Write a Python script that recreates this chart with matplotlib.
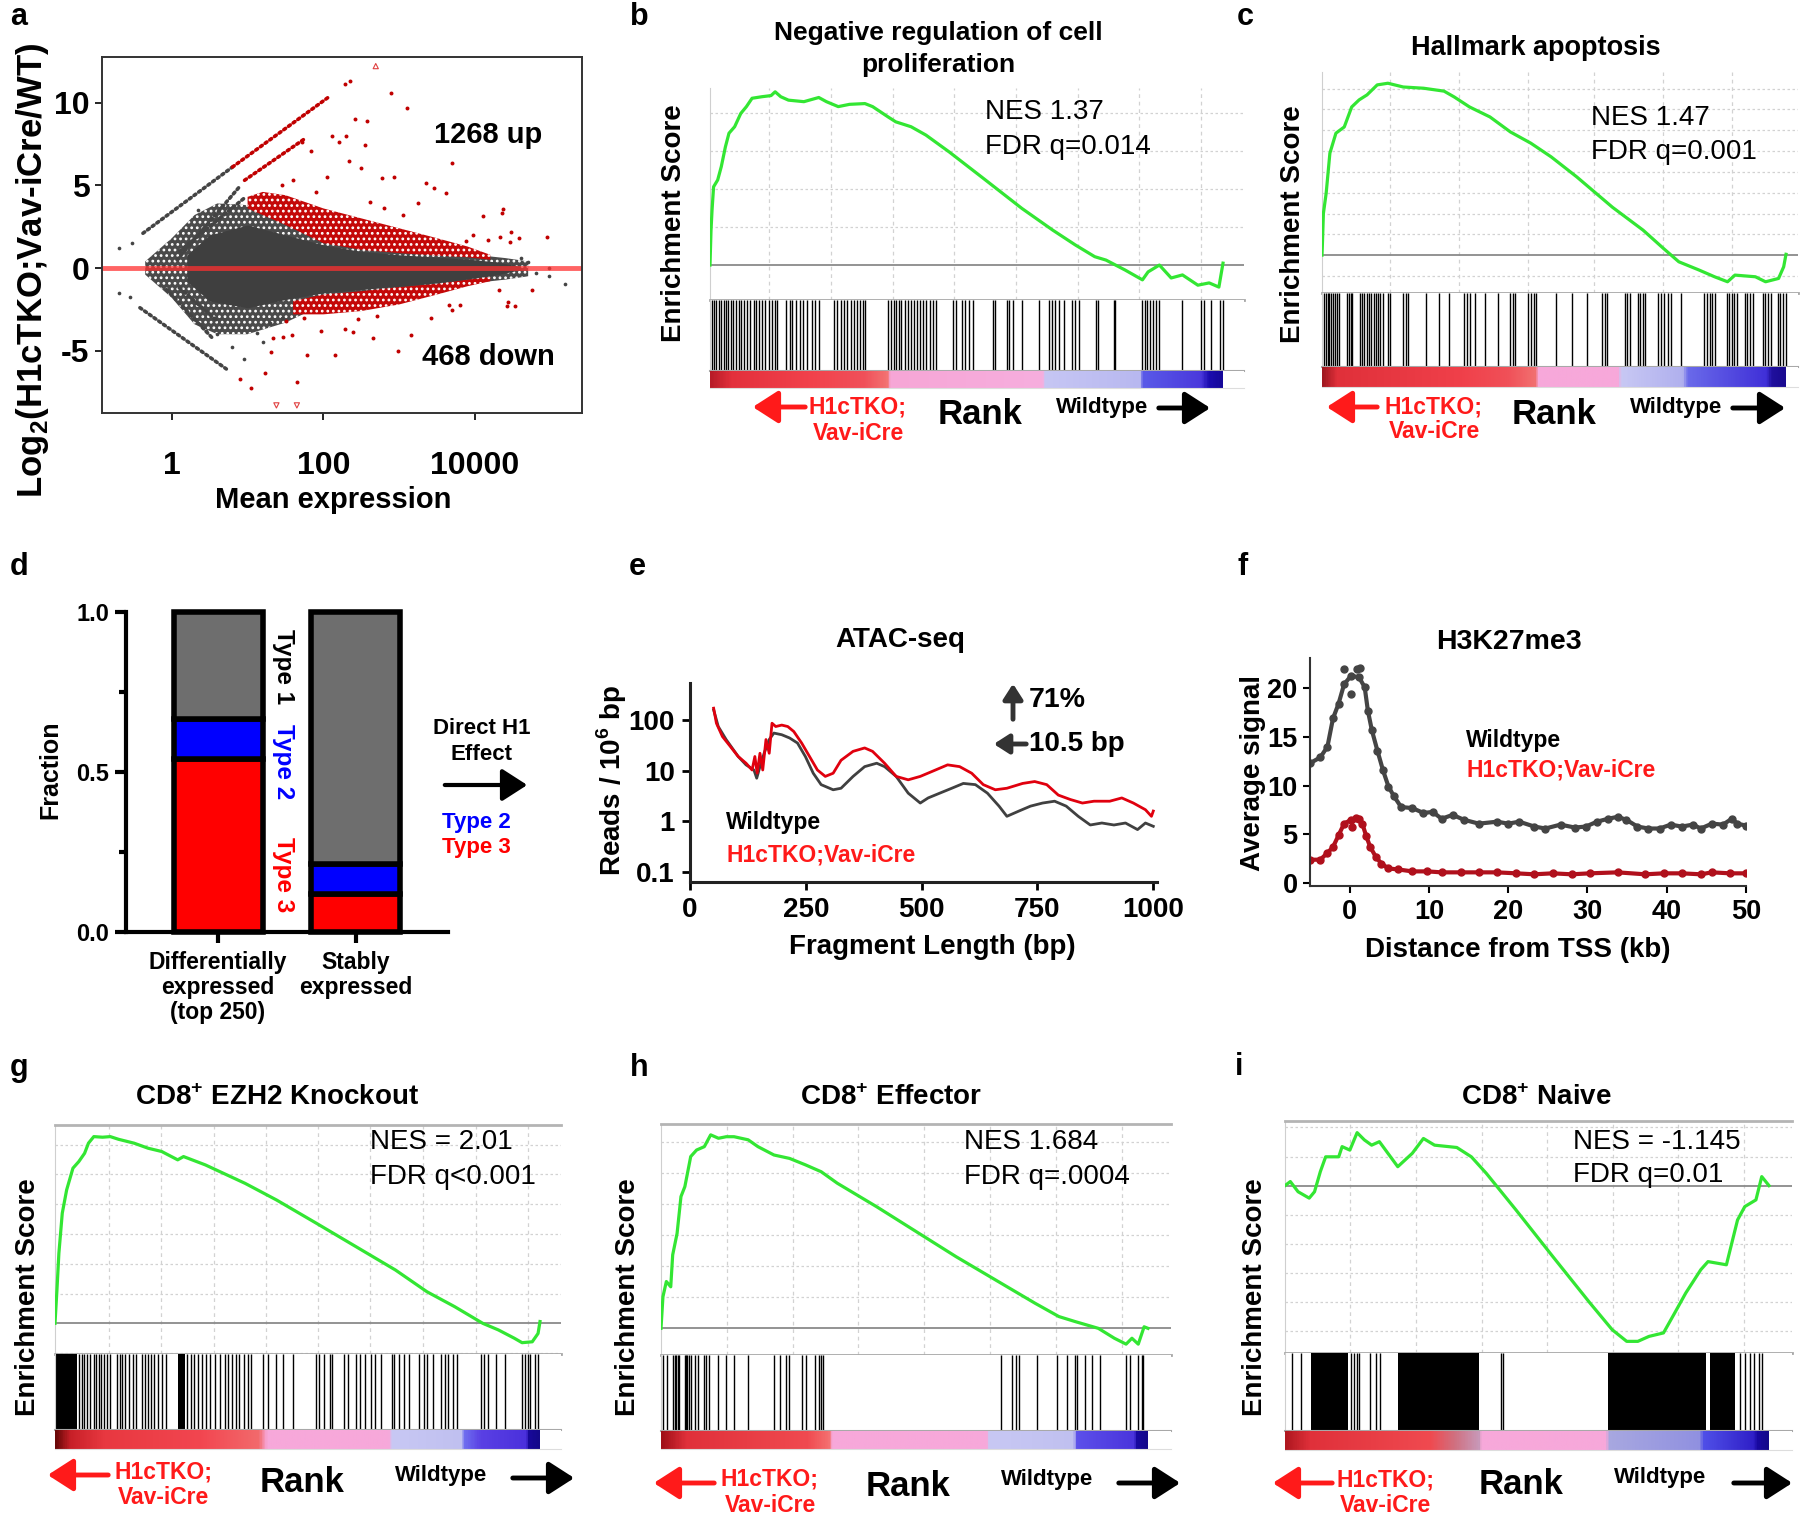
import numpy as np
import matplotlib
matplotlib.use("Agg")
import matplotlib.pyplot as plt
from matplotlib.colors import LinearSegmentedColormap
from matplotlib.patches import FancyArrowPatch

plt.rcParams['font.family'] = ['Liberation Sans', 'DejaVu Sans']
plt.rcParams['mathtext.fontset'] = 'custom'
plt.rcParams['mathtext.rm'] = 'Liberation Sans'
plt.rcParams['mathtext.bf'] = 'Liberation Sans:bold'
plt.rcParams['hatch.linewidth'] = 1.2

W, H = 1800, 1515

# ---------------- panel a : MA plot (log10 mean, log2 FC) ----------------
ma_out_lx = [-0.35, 0.0, 0.3, 0.6, 1.0, 1.5, 2.0, 2.5, 3.0, 3.5, 4.0, 4.4, 4.7]
ma_out_hi = [0.4, 1.8, 3.2, 3.9, 3.8, 3.0, 1.8, 1.3, 1.1, 0.9, 0.8, 0.6, 0.4]
ma_out_lo = [-0.4, -1.8, -3.4, -4.0, -4.0, -3.3, -2.2, -1.7, -1.4, -1.1, -0.9, -0.7, -0.5]
ma_core_lx = [0.2, 0.5, 1.0, 1.5, 2.0, 2.5, 3.0, 3.5, 4.0, 4.3, 4.6]
ma_core_hi = [0.8, 2.0, 2.6, 2.0, 1.4, 1.0, 0.8, 0.65, 0.5, 0.35, 0.1]
ma_core_lo = [-0.8, -2.0, -2.4, -1.9, -1.5, -1.3, -1.1, -0.9, -0.6, -0.4, -0.1]
ma_up_lx = [1.0, 1.2, 1.5, 2.0, 2.5, 3.0, 3.5, 3.9, 4.2]
ma_up_lo = [3.6, 3.2, 2.6, 1.5, 1.1, 0.9, 0.75, 0.65, 0.5]
ma_up_hi = [4.3, 4.6, 4.4, 3.6, 3.0, 2.4, 1.8, 1.3, 0.8]
ma_dn_lx = [1.6, 2.0, 2.5, 3.0, 3.5, 3.9, 4.2]
ma_dn_hi = [-2.0, -1.6, -1.4, -1.15, -0.95, -0.7, -0.55]
ma_dn_lo = [-2.8, -2.8, -2.6, -2.2, -1.6, -1.1, -0.8]
# count-limited diagonal stripes: (lx0, y0, lx1, y1, colour)
ma_stripes = [(-0.38, 2.1, 0.80, 6.1, 'gray'), (0.80, 6.1, 2.06, 10.3, 'red'),
              (0.07, 0.5, 0.91, 5.0, 'gray'), (0.96, 5.3, 1.75, 7.8, 'red'),
              (0.10, 1.0, 0.95, 4.2, 'gray'),
              (-0.42, -2.4, 0.72, -6.1, 'gray'), (-0.07, -1.3, 0.55, -4.3, 'gray'),
              (0.10, -1.2, 0.60, -3.2, 'gray')]
ma_red_lx = [2.41, 2.57, 2.89, 3.10, 2.11, 2.21, 2.30, 2.55, 2.34, 2.50, 2.77, 2.93, 3.69, 3.35,
             3.46, 3.62, 4.11, 4.37, 3.88, 3.97, 4.17, 4.46, 1.72, 1.84, 2.28, 2.35, 4.36, 4.47,
             4.58, 4.95, 4.33, 1.34, 1.31, 1.05, 0.90, 1.23, 1.65, 1.79, 2.15, 2.66, 2.98, 3.16,
             1.58, 1.47, 1.97, 2.28, 2.39, 4.42, 4.53, 3.69, 3.42, 4.75, 4.32, 4.43, 3.66, 3.80,
             1.45, 1.60, 1.90, 2.05, 2.62, 2.80, 3.05, 3.25, 1.50, 1.75, 2.45, 2.70]
ma_red_y = [8.98, 8.88, 10.6, 9.65, 7.98, 7.63, 7.98, 7.43, 6.46, 6.02, 5.42, 5.48, 6.32, 5.12,
            4.82, 4.55, 3.14, 3.56, 1.63, 2.0, 1.7, 1.59, 7.63, 7.09, 11.1, 11.3, 3.31, 2.19,
            1.80, 1.87, 1.89, -4.21, -5.08, -7.23, -6.73, -6.37, -6.87, -5.26, -5.26, -4.25, -5.02,
            -4.05, -4.05, -4.15, -3.79, -3.70, -3.84, -2.30, -2.30, -2.54, -3.04, -1.33, -1.33,
            -2.04, -2.24, -2.24, 5.0, 5.3, 4.6, 5.5, 4.0, 3.6, 3.2, 3.9, -3.2, -3.0, -3.1, -2.9]
ma_gray_lx = [-0.69, -0.53, -0.69, -0.55, 4.70, 4.98, 4.98, 5.18, 4.60, 4.80, 0.80, 0.95, 1.12,
              1.20, 0.60, -0.25, -0.12, 1.30, 1.45, 0.35, 0.45]
ma_gray_y = [1.2, 1.54, -1.53, -1.73, 0.35, 0.0, -0.5, -0.97, 0.6, -0.3, -4.8, -5.5, -3.9,
             -4.5, -4.0, 0.0, 0.2, -3.3, -3.0, 3.5, -3.8]
ma_tri_up = (2.69, 12.2)
ma_tri_dn_lx = [1.38, 1.65]
ma_tri_dn_y = [-8.3, -8.3]

# ---------------- GSEA running scores (rank fraction, ES) ----------------
b_rank = [0, .002, .004, .007, .015, .022, .030, .037, .048, .060, .071, .082, .101, .119, .127,
          .138, .153, .183, .212, .227, .250, .272, .302, .317, .347, .362, .392, .421, .466,
          .533, .608, .668, .712, .750, .772, .809, .843, .854, .876, .899, .921, .951, .973,
          .992, 1.0]
b_es = [0, .092, .145, .206, .224, .259, .311, .347, .364, .399, .417, .439, .443, .446, .456,
        .443, .434, .430, .441, .430, .417, .423, .425, .417, .390, .377, .364, .342, .298,
        .228, .149, .092, .053, .022, .013, -.013, -.039, -.018, 0, -.034, -.026, -.053, -.047,
        -.058, .005]
b_hits = [.004, .008, .012, .018, .022, .027, .031, .036, .040, .045, .050, .056, .061, .066,
          .072, .078, .085, .090, .096, .101, .108, .115, .121, .127, .130, .148, .155, .160,
          .168, .175, .182, .190, .198, .205, .212, .242, .248, .255, .262, .268, .274, .280,
          .286, .292, .298, .302, .347, .352, .358, .362, .368, .373, .380, .386, .392, .398,
          .404, .410, .416, .422, .428, .434, .440, .474, .480, .492, .497, .505, .512, .552,
          .556, .578, .583, .590, .608, .641, .660, .666, .672, .680, .690, .705, .712, .720,
          .753, .757, .787, .790, .843, .847, .852, .858, .864, .870, .876, .921, .957, .962,
          .977, .995, 1.0]
b_cols = [(0, '#b81c28'), (.04, '#e3303c'), (.2, '#f2424c'), (.30, '#f0505a'), (.345, '#f37272'),
          (.35, '#f6a6d6'), (.65, '#f7aede'), (.655, '#c6c6f4'), (.84, '#b8b8f0'), (.845, '#5a5ae8'),
          (.96, '#4a38dc'), (.975, '#1c0cb0'), (1, '#16089a')]

c_rank = [0, .0007, .003, .009, .017, .030, .048, .064, .080, .097, .119, .142, .175, .219, .263,
          .285, .318, .362, .406, .450, .494, .549, .626, .692, .736, .769, .813, .846, .874,
          .890, .934, .956, .984, .995, 1.0]
c_es = [0, .02, .10, .149, .245, .293, .308, .356, .373, .385, .409, .413, .404, .401, .394, .380,
        .356, .332, .296, .269, .236, .188, .115, .060, .016, -.016, -.036, -.052, -.064, -.048,
        -.052, -.064, -.056, -.028, .002]
c_hits = [.004, .008, .012, .016, .020, .024, .028, .032, .037, .054, .058, .062, .065, .081, .086,
          .091, .096, .101, .106, .111, .116, .121, .126, .131, .142, .147, .175, .181, .186, .224,
          .252, .274, .307, .313, .320, .329, .351, .379, .406, .411, .417, .445, .451, .456, .461,
          .505, .538, .571, .604, .609, .615, .653, .658, .664, .681, .686, .692, .697, .725, .731,
          .737, .745, .752, .774, .824, .830, .836, .841, .846, .873, .878, .884, .889, .895, .912,
          .917, .922, .928, .950, .955, .961, .967, .983, .988, .994, 1.0]
c_cols = [(0, '#a01820'), (.03, '#e0303a'), (.3, '#f0404a'), (.4, '#f05058'), (.46, '#f27070'),
          (.466, '#f7a8da'), (.64, '#f7a8da'), (.645, '#c8c8f4'), (.78, '#b0b0ee'), (.79, '#6a6aea'),
          (.96, '#4030d8'), (.972, '#20109e'), (1, '#1a0a90')]

g_rank = [0, .004, .008, .015, .024, .037, .049, .061, .069, .080, .098, .114, .131, .163, .192,
          .220, .253, .265, .310, .392, .457, .539, .620, .702, .767, .824, .882, .914, .947, .963,
          .984, .996, 1.0]
g_es = [0, .112, .235, .370, .448, .521, .543, .571, .605, .627, .625, .627, .618, .605, .588,
        .577, .549, .560, .532, .470, .414, .336, .258, .179, .106, .056, 0, -.022, -.050, -.065,
        -.062, -.034, .006]
g_hits = [.05, .055, .06, .066, .072, .08, .085, .09, .095, .102, .108, .114, .127, .133, .138,
          .145, .152, .160, .167, .180, .186, .192, .198, .205, .212, .220, .229, .273, .28, .287,
          .295, .303, .312, .32, .33, .34, .35, .357, .365, .373, .38, .39, .398, .404, .429, .44,
          .455, .47, .49, .539, .545, .555, .568, .571, .596, .604, .620, .628, .64, .652, .66,
          .673, .694, .70, .71, .72, .73, .751, .76, .768, .78, .796, .805, .81, .82, .829, .878,
          .885, .893, .91, .927, .963, .97, .976, .98, .99, .996]
g_blocks = [(.002, .045), (.253, .269)]
g_cols = [(0, '#6a0808'), (.03, '#c82028'), (.1, '#e83840'), (.3, '#f24650'), (.42, '#f26a6c'),
          (.437, '#f7a8da'), (.69, '#f7a8da'), (.695, '#c8c8f4'), (.84, '#c0c0f0'), (.845, '#7070f0'),
          (.88, '#5a40e4'), (.975, '#4a30dc'), (.98, '#18089a'), (1, '#14088a')]

h_rank = [0, .004, .011, .020, .024, .033, .041, .049, .061, .073, .089, .102, .118, .134, .150,
          .179, .199, .232, .264, .297, .329, .362, .443, .524, .606, .687, .768, .817, .850, .898,
          .931, .955, .967, .980, .992, 1.0]
h_es = [0, .102, .151, .134, .237, .306, .425, .457, .554, .575, .586, .624, .613, .618, .618,
        .608, .586, .559, .548, .527, .505, .468, .392, .312, .231, .156, .081, .038, .022, 0,
        -.032, -.051, -.032, -.051, .005, 0]
h_hits = [.004, .012, .024, .028, .031, .034, .037, .049, .051, .054, .058, .061, .069, .077, .089,
          .093, .098, .118, .134, .150, .179, .232, .244, .256, .263, .289, .297, .317, .325, .329,
          .333, .699, .720, .728, .736, .772, .813, .833, .850, .854, .870, .886, .902, .955, .963,
          .980, .988, .990]
h_cols = [(0, '#a01018'), (.05, '#e0303a'), (.3, '#f04a50'), (.345, '#f47070'), (.35, '#f7a8da'),
          (.67, '#f7a8da'), (.675, '#c8c8f4'), (.85, '#c0c0f0'), (.855, '#5c50ea'), (.975, '#4a34dc'),
          (.98, '#1808a0'), (1, '#14088a')]

i_rank = [0, .011, .027, .050, .061, .073, .084, .111, .118, .134, .149, .164, .179, .195, .233,
          .263, .286, .309, .355, .385, .416, .477, .553, .630, .676, .706, .729, .752, .782, .805,
          .828, .859, .874, .912, .935, .950, .973, .985, 1.0]
i_es = [0, .014, -.021, -.043, -.021, .048, .099, .099, .134, .122, .182, .157, .139, .151, .065,
        .111, .162, .139, .131, .099, .042, -.083, -.243, -.403, -.495, -.535, -.535, -.518, -.506,
        -.438, -.369, -.289, -.261, -.272, -.118, -.072, -.049, .031, 0]
i_hits = [.014, .034, .137, .142, .148, .153, .176, .187, .196, .447, .450, .94, .95, .96, .97,
          .98, .985]
i_blocks = [(.053, .130), (.233, .401), (.668, .870), (.878, .93)]
i_cols = [(0, '#b01820'), (.05, '#e0303a'), (.3, '#f04a50'), (.35, '#d07080'), (.40, '#c898b8'),
          (.405, '#f7a8da'), (.665, '#f7a8da'), (.67, '#a8a8e0'), (.86, '#9090e0'), (.865, '#5050e8'),
          (.97, '#3020c8'), (.98, '#1808a0'), (1, '#14088a')]

# ---------------- panel d ----------------
d_groups = ['Differentially\nexpressed\n(top 250)', 'Stably\nexpressed']
d_type3 = [0.54, 0.12]
d_type2 = [0.127, 0.093]
d_type1 = [0.333, 0.787]

# ---------------- panel e : ATAC fragment sizes ----------------
e_ko_x = [51, 57, 70, 87, 104, 121, 134, 140, 145, 151, 157, 164, 171, 177, 185, 198, 211, 224,
          241, 258, 275, 292, 309, 326, 352, 377, 394, 420, 445, 471, 497, 522, 556, 582, 608, 633,
          659, 684, 718, 744, 770, 795, 821, 847, 872, 906, 932, 957, 983, 996, 1000]
e_ko_y = [170, 86, 47, 30, 19, 14, 10.3, 19, 8.9, 22, 10.3, 41, 22, 86, 74, 79, 74, 59, 35, 19,
          10.3, 7.7, 8.9, 16, 24, 28, 24, 14, 7.7, 6.6, 7.7, 9.6, 13, 12, 8.9, 5.3, 4.2, 4.5, 5.6,
          6.1, 5.3, 3.3, 2.7, 2.3, 2.5, 2.5, 2.9, 2.3, 1.7, 1.26, 1.6]
e_wt_x = [51, 61, 78, 104, 121, 138, 144, 151, 160, 171, 181, 198, 215, 232, 249, 266, 283, 309,
          326, 352, 377, 403, 420, 445, 471, 497, 514, 539, 565, 590, 616, 642, 667, 684, 710, 735,
          761, 787, 812, 838, 864, 889, 915, 940, 966, 983, 1000]
e_wt_y = [158, 74, 41, 19, 13, 10.3, 7.1, 12, 22, 41, 55, 51, 44, 35, 19, 8.9, 5.3, 4.2, 4.5, 7.7,
          12, 14, 12, 7.7, 3.6, 2.3, 2.9, 3.6, 4.5, 5.6, 5.3, 3.6, 2.0, 1.26, 1.6, 2.0, 2.3, 2.5,
          2.0, 1.26, 0.85, 0.93, 0.85, 0.93, 0.69, 0.93, 0.8]

# ---------------- panel f : H3K27me3 profile ----------------
f_wt_x = [-5.0, -3.7, -2.8, -2.1, -1.4, -0.7, 0.2, 1.2, 1.9, 2.3, 2.8, 3.5, 4.2, 4.9, 5.6, 6.5,
          7.9, 9.3, 10.5, 11.6, 13.0, 14.4, 16.3, 18.6, 20.0, 21.4, 23.3, 24.7, 26.6, 28.4, 29.8,
          31.2, 32.6, 33.8, 34.9, 36.3, 37.7, 39.1, 40.5, 41.9, 43.3, 44.3, 45.7, 47.1, 48.2, 48.9,
          50.0]
f_wt_y = [12.3, 12.9, 14.0, 16.9, 18.4, 20.4, 21.3, 21.1, 20.1, 17.7, 15.7, 13.6, 11.6, 9.9, 8.9,
          7.8, 7.7, 7.2, 7.3, 6.6, 7.0, 6.5, 6.1, 6.3, 6.1, 6.3, 5.8, 5.6, 6.0, 5.7, 5.8, 6.3, 6.6,
          6.8, 6.5, 5.8, 5.6, 5.6, 6.0, 5.8, 6.0, 5.6, 6.1, 6.0, 6.6, 6.1, 5.9]
f_wt_ox = [-0.7, 0.9, 1.3, 0.2]
f_wt_oy = [22.0, 22.0, 22.1, 19.4]
f_ko_x = [-5.0, -3.7, -2.8, -2.1, -1.4, -0.7, 0.2, 1.2, 1.6, 2.1, 2.6, 3.3, 4.0, 4.9, 6.1, 7.9,
          9.8, 11.6, 14.0, 16.3, 18.6, 21.0, 23.3, 25.6, 28.0, 30.3, 33.8, 37.3, 39.6, 41.9, 44.3,
          45.7, 48.0, 50.0]
f_ko_y = [2.4, 2.4, 3.1, 3.7, 4.9, 6.1, 6.5, 6.6, 6.1, 4.8, 3.7, 2.7, 2.0, 1.5, 1.4, 1.2, 1.2,
          1.1, 1.1, 1.1, 1.1, 1.0, 0.9, 1.0, 0.9, 1.0, 1.1, 0.9, 1.0, 1.0, 0.9, 1.1, 1.0, 1.0]
f_ko_ox = [0.3, 0.8]
f_ko_oy = [5.8, 6.7]

GREEN = '#33e633'
RED = '#ff1a1a'

fig = plt.figure(figsize=(W / 100, H / 100), dpi=100)


def ax_at(l, t, r, b):
    return fig.add_axes([l / W, 1 - b / H, (r - l) / W, (b - t) / H])


def ftext(x, y, s, **kw):
    kw.setdefault('ha', 'center')
    kw.setdefault('va', 'center')
    fig.text(x / W, 1 - y / H, s, **kw)


def farrow(x0, y0, x1, y1, color, lw=3.5, ms=22):
    a = FancyArrowPatch((x0 / W, 1 - y0 / H), (x1 / W, 1 - y1 / H), transform=fig.transFigure,
                        arrowstyle='-|>,head_length=0.7,head_width=0.45', mutation_scale=ms,
                        lw=lw, color=color)
    fig.add_artist(a)


# panel letters
for lt, x, y in [('a', 10, 17), ('b', 630, 17), ('c', 1237, 17), ('d', 10, 567), ('e', 629, 567),
                 ('f', 1237, 567), ('g', 10, 1068), ('h', 630, 1068), ('i', 1235, 1067)]:
    ftext(x, y, lt, fontsize=22, fontweight='bold', ha='left')

# ---------------- a ----------------
ax = ax_at(102, 57, 582, 413)
tx = lambda v: 10 ** np.asarray(v, dtype=float)
ax.fill_between(tx(ma_out_lx), ma_out_lo, ma_out_hi, facecolor='#4a4a4a', edgecolor='white',
                hatch='...', lw=0)
ax.fill_between(tx(ma_up_lx), ma_up_lo, ma_up_hi, facecolor='#c40808', edgecolor='white',
                hatch='...', lw=0)
ax.fill_between(tx(ma_dn_lx), ma_dn_lo, ma_dn_hi, facecolor='#c40808', edgecolor='white',
                hatch='...', lw=0)
ax.fill_between(tx(ma_core_lx), ma_core_lo, ma_core_hi, color='#3f3f3f', lw=0)
for x0, y0, x1, y1, c in ma_stripes:
    ax.plot(tx([x0, x1]), [y0, y1], color='#444444' if c == 'gray' else '#c00000',
            lw=2.6, ls=(0, (0.6, 1.0)), dash_capstyle='round')
ax.scatter(tx(ma_gray_lx), ma_gray_y, s=7, color='#444444', lw=0)
ax.scatter(tx(ma_red_lx), ma_red_y, s=8, color='#c00000', lw=0)
ax.scatter(tx([ma_tri_up[0]]), [ma_tri_up[1]], marker='^', s=14, facecolor='none',
           edgecolor='#e04040', lw=0.8)
ax.scatter(tx(ma_tri_dn_lx), ma_tri_dn_y, marker='v', s=14, facecolor='none',
           edgecolor='#e04040', lw=0.8)
ax.axhline(0, color='#ff3030', lw=3.5, alpha=0.75)
ax.set_xscale('log')
ax.set_xlim(10 ** -0.92, 10 ** 5.41)
ax.set_ylim(-8.76, 12.75)
ax.set_xticks([1, 100, 10000])
ax.set_xticklabels(['1', '100', '10000'])
ax.minorticks_off()
ax.set_yticks([-5, 0, 5, 10])
ax.set_yticklabels(['-5', '0', '5', '10'])
ax.tick_params(axis='x', length=5, width=1.2, pad=22, labelsize=23)
ax.tick_params(axis='y', length=5, width=1.2, pad=4, labelsize=23)
for t in ax.get_xticklabels() + ax.get_yticklabels():
    t.set_fontweight('bold')
for s in ax.spines.values():
    s.set_linewidth(1.4)
    s.set_color('#333333')
ftext(488, 135, '1268 up', fontsize=21, fontweight='bold')
ftext(488, 357, '468 down', fontsize=21, fontweight='bold')
ftext(333, 500, 'Mean expression', fontsize=21, fontweight='bold')
ftext(33, 270, r'Log$_{\mathbf{2}}$(H1cTKO;Vav-iCre/WT)', fontsize=25, fontweight='bold',
      rotation=90)


# ---------------- GSEA helper ----------------
def gsea(l, t, r, es_b, hit_b, cb_b, data_end, rank, es, ylim, hstep, vgrid, hits, blocks,
         cols, frame_top):
    xmax = (r - l) / (data_end - l)
    ax = ax_at(l, t, r, es_b)
    k0 = int(np.ceil(ylim[0] / hstep))
    k1 = int(np.floor(ylim[1] / hstep))
    for k in range(k0, k1 + 1):
        if k != 0:
            ax.axhline(k * hstep, color='#d2d2d2', lw=0.9, ls=(0, (2, 2)), zorder=0)
    for v in vgrid:
        ax.axvline(v, color='#d2d2d2', lw=0.9, ls=(0, (3, 3)), zorder=0)
    ax.axhline(0, color='#8a8a8a', lw=1.3, zorder=1)
    ax.plot(rank, es, color=GREEN, lw=2.3, zorder=3)
    ax.set_xlim(0, xmax)
    ax.set_ylim(*ylim)
    ax.set_xticks([])
    ax.set_yticks([])
    ax.spines['right'].set_visible(False)
    ax.spines['top'].set_visible(frame_top)
    ax.spines['top'].set_color('#b4b4b4')
    ax.spines['top'].set_linewidth(2)
    ax.spines['left'].set_color('#cfcfcf')
    ax.spines['bottom'].set_color('#a8a8a8')
    ax.spines['bottom'].set_linewidth(2)

    ax2 = ax_at(l, es_b, r, hit_b)
    ax2.vlines(hits, 0, 1, color='black', lw=1.0)
    for s, e in blocks:
        ax2.axvspan(s, e, color='black', lw=0)
    ax2.set_xlim(0, xmax)
    ax2.set_ylim(0, 1)
    ax2.set_xticks([])
    ax2.set_yticks([])
    for sp in ['top', 'right']:
        ax2.spines[sp].set_visible(False)
    ax2.spines['left'].set_color('#cfcfcf')
    ax2.spines['bottom'].set_color('#a8a8a8')
    ax2.spines['bottom'].set_linewidth(1.5)

    ax3 = ax_at(l, hit_b, r, cb_b)
    cmap = LinearSegmentedColormap.from_list('rank', cols)
    ax3.imshow(np.linspace(0, 1, 600)[None, :], aspect='auto', cmap=cmap, extent=(0, 1, 0, 1))
    ax3.set_xlim(0, xmax)
    ax3.set_ylim(0, 1)
    ax3.set_xticks([])
    ax3.set_yticks([])
    for sp in ['top', 'right', 'left']:
        ax3.spines[sp].set_visible(False)
    ax3.spines['bottom'].set_color('#dddddd')
    return ax


def gsea_labels(red_arrow, h1_x, h1_y, vav_y, rank_xy, wt_xy, blk_arrow, ylab_x, ylab_y):
    farrow(red_arrow[0], red_arrow[2], red_arrow[1], red_arrow[2], RED)
    ftext(h1_x, h1_y, 'H1cTKO;', fontsize=16.5, fontweight='bold', color=RED)
    ftext(h1_x, vav_y, 'Vav-iCre', fontsize=16.5, fontweight='bold', color=RED)
    ftext(rank_xy[0], rank_xy[1], 'Rank', fontsize=25, fontweight='bold')
    ftext(wt_xy[0], wt_xy[1], 'Wildtype', fontsize=16, fontweight='bold')
    farrow(blk_arrow[0], blk_arrow[2], blk_arrow[1], blk_arrow[2], 'black')
    ftext(ylab_x, ylab_y, 'Enrichment Score', fontsize=20, fontweight='bold', rotation=90)


# ---------------- b ----------------
gsea(710, 88, 1244, 300, 371, 388, 1223, b_rank, b_es, (-0.092, 0.466), 0.1,
     [.115, .236, .356, .476, .597, .717, .837, .958], b_hits, [], b_cols, False)
ftext(938, 33, 'Negative regulation of cell', fontsize=19, fontweight='bold')
ftext(938, 65, 'proliferation', fontsize=19, fontweight='bold')
ftext(985, 112, 'NES 1.37', fontsize=20, ha='left')
ftext(985, 147, 'FDR q=0.014', fontsize=20, ha='left')
gsea_labels((808, 750, 407), 858, 407, 433, (980, 415), (1102, 408), (1156, 1213, 408), 674, 223)

# ---------------- c ----------------
gsea(1322, 72, 1798, 293, 367, 387, 1786, c_rank, c_es, (-0.091, 0.44), 0.05,
     [.147, .295, .444, .586, .735, .884], c_hits, [], c_cols, False)
ftext(1536, 48, 'Hallmark apoptosis', fontsize=19.5, fontweight='bold')
ftext(1591, 118, 'NES 1.47', fontsize=20, ha='left')
ftext(1591, 152, 'FDR q=0.001', fontsize=20, ha='left')
gsea_labels((1380, 1324, 407), 1434, 407, 432, (1554, 415), (1676, 408), (1730, 1788, 408), 1293, 224)

# ---------------- g ----------------
gsea(55, 1125, 561, 1354, 1430, 1449, 540, g_rank, g_es, (-0.103, 0.666), 0.1,
     [.111, .219, .328, .435, .542, .649, .759, .868, .975], g_hits, g_blocks, g_cols, True)
ftext(277, 1098, r'CD8$^{\mathbf{+}}$ EZH2 Knockout', fontsize=20, fontweight='bold')
ftext(370, 1142, 'NES = 2.01', fontsize=20, ha='left')
ftext(370, 1177, 'FDR q<0.001', fontsize=20, ha='left')
gsea_labels((111, 45, 1475), 163, 1472, 1498, (302, 1482), (441, 1475), (510, 577, 1478), 28, 1297)

# ---------------- h ----------------
gsea(661, 1124, 1171, 1355, 1431, 1449, 1148, h_rank, h_es, (-0.086, 0.659), 0.1,
     [.136, .271, .404, .540, .675, .811, .946], h_hits, [], h_cols, True)
ftext(891, 1098, r'CD8$^{\mathbf{+}}$ Effector', fontsize=20, fontweight='bold')
ftext(964, 1142, 'NES 1.684', fontsize=20, ha='left')
ftext(964, 1177, 'FDR q=.0004', fontsize=20, ha='left')
gsea_labels((717, 651, 1483), 770, 1479, 1506, (908, 1487), (1047, 1479), (1116, 1183, 1483), 628, 1297)

# ---------------- i ----------------
gsea(1285, 1121, 1792, 1353, 1431, 1450, 1769, i_rank, i_es, (-0.575, 0.222), 0.1,
     [.135, .271, .406, .542, .677, .813, .948], i_hits, i_blocks, i_cols, True)
ftext(1536, 1098, r'CD8$^{\mathbf{+}}$ Naive', fontsize=20, fontweight='bold')
ftext(1573, 1142, 'NES = -1.145', fontsize=20, ha='left')
ftext(1573, 1175, 'FDR q=0.01', fontsize=20, ha='left')
gsea_labels((1335, 1270, 1483), 1385, 1480, 1505, (1521, 1485), (1660, 1478), (1731, 1795, 1483), 1255, 1297)

# ---------------- d ----------------
ax = ax_at(126, 612, 448, 932)
xs = np.arange(len(d_groups))
bw = 0.645
kw = dict(width=bw, edgecolor='black', linewidth=4, clip_on=False)
ax.bar(xs, d_type3, color='#ff0000', **kw)
ax.bar(xs, d_type2, bottom=d_type3, color='#0000ff', **kw)
ax.bar(xs, d_type1, bottom=np.add(d_type3, d_type2), color='#6e6e6e', **kw)
ax.set_xlim(-0.667, 1.667)
ax.set_ylim(0, 1)
ax.set_yticks([0, 0.5, 1.0])
ax.set_yticklabels(['0.0', '0.5', '1.0'])
ax.set_yticks([0.25, 0.75], minor=True)
ax.set_xticks(xs)
ax.set_xticklabels(d_groups, fontsize=16.5, fontweight='bold', linespacing=1.1)
ax.tick_params(axis='y', which='major', length=8, width=3, labelsize=17, pad=4)
ax.tick_params(axis='y', which='minor', length=5, width=3)
ax.tick_params(axis='x', length=8, width=3, pad=6)
for t in ax.get_yticklabels():
    t.set_fontweight('bold')
for sp in ['top', 'right']:
    ax.spines[sp].set_visible(False)
for sp in ['left', 'bottom']:
    ax.spines[sp].set_linewidth(3)
ftext(50, 770, 'Fraction', fontsize=18, fontweight='bold', rotation=90)
ftext(283, 667, 'Type 1', fontsize=17.5, fontweight='bold', rotation=-90, color='black')
ftext(283, 762, 'Type 2', fontsize=17.5, fontweight='bold', rotation=-90, color='#0000ff')
ftext(283, 875, 'Type 3', fontsize=17.5, fontweight='bold', rotation=-90, color='#ff0000')
ftext(482, 728, 'Direct H1', fontsize=16, fontweight='bold')
ftext(482, 755, 'Effect', fontsize=16, fontweight='bold')
farrow(442, 785, 530, 785, 'black', lw=3, ms=22)
ftext(476, 822, 'Type 2', fontsize=16, fontweight='bold', color='#0000ff')
ftext(476, 848, 'Type 3', fontsize=16, fontweight='bold', color='#ff0000')

# ---------------- e ----------------
ax = ax_at(690, 683, 1157, 882)
ax.plot(e_wt_x, e_wt_y, color='#404040', lw=2)
ax.plot(e_ko_x, e_ko_y, color='#e0000e', lw=2)
ax.set_yscale('log')
ax.set_xlim(0, 1008)
ax.set_ylim(0.064, 533)
ax.set_xticks([0, 250, 500, 750, 1000])
ax.set_yticks([0.1, 1, 10, 100])
ax.set_yticklabels(['0.1', '1', '10', '100'])
ax.minorticks_off()
ax.tick_params(length=6, width=2, labelsize=20, pad=5)
for t in ax.get_xticklabels() + ax.get_yticklabels():
    t.set_fontweight('bold')
for sp in ['top', 'right']:
    ax.spines[sp].set_visible(False)
for sp in ['left', 'bottom']:
    ax.spines[sp].set_linewidth(2.2)
    ax.spines[sp].set_color('#222222')
ftext(900, 640, 'ATAC-seq', fontsize=20, fontweight='bold')
ftext(726, 822, 'Wildtype', fontsize=16.5, fontweight='bold', ha='left')
ftext(726, 855, 'H1cTKO;Vav-iCre', fontsize=16.5, fontweight='bold', ha='left', color=RED)
farrow(1013, 722, 1013, 681, '#333333', lw=3.5, ms=13)
ftext(1029, 700, '71%', fontsize=20.5, fontweight='bold', ha='left')
farrow(1029, 744, 991, 744, '#333333', lw=3.5, ms=13)
ftext(1029, 744, '10.5 bp', fontsize=20, fontweight='bold', ha='left')
ftext(612, 780, r'Reads / 10$^{\mathbf{6}}$ bp', fontsize=20, fontweight='bold', rotation=90)
ftext(932, 947, 'Fragment Length (bp)', fontsize=20, fontweight='bold')

# ---------------- f ----------------
ax = ax_at(1310, 658, 1746, 886)
ax.plot(f_wt_x, f_wt_y, color='#444444', lw=3, marker='o', ms=5)
ax.plot(f_wt_ox, f_wt_oy, 'o', color='#444444', ms=5)
ax.plot(f_ko_x, f_ko_y, color='#b0101c', lw=3, marker='o', ms=5)
ax.plot(f_ko_ox, f_ko_oy, 'o', color='#b0101c', ms=5)
ax.set_xlim(-5, 50)
ax.set_ylim(-0.3, 23.1)
ax.set_xticks([0, 10, 20, 30, 40, 50])
ax.set_yticks([0, 5, 10, 15, 20])
ax.tick_params(length=5, width=1.5, labelsize=19.5, pad=4)
for t in ax.get_xticklabels() + ax.get_yticklabels():
    t.set_fontweight('bold')
for sp in ['top', 'right']:
    ax.spines[sp].set_visible(False)
for sp in ['left', 'bottom']:
    ax.spines[sp].set_linewidth(1.5)
    ax.spines[sp].set_color('#333333')
ftext(1509, 642, 'H3K27me3', fontsize=20.5, fontweight='bold')
ftext(1466, 740, 'Wildtype', fontsize=16.5, fontweight='bold', ha='left')
ftext(1466, 770, 'H1cTKO;Vav-iCre', fontsize=16.5, fontweight='bold', ha='left', color=RED)
ftext(1253, 773, 'Average signal', fontsize=20, fontweight='bold', rotation=90)
ftext(1518, 950, 'Distance from TSS (kb)', fontsize=20, fontweight='bold')

fig.savefig('out.png', dpi=100)
